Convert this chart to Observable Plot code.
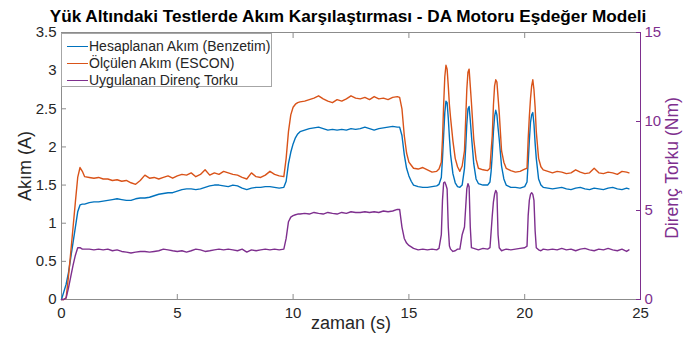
<!DOCTYPE html>
<html><head><meta charset="utf-8">
<script src="https://cdn.jsdelivr.net/npm/d3@7"></script>
<script src="https://cdn.jsdelivr.net/npm/@observablehq/plot@0.6"></script>
<style>
body{margin:0;background:#fff;font-family:"Liberation Sans",Arial,sans-serif;}
#wrap{position:relative;width:699px;height:345px;overflow:hidden;}
#legend{position:absolute;left:61px;top:33px;width:211px;height:54px;border:1px solid #a6a6a6;background:#fff;font-size:14px;color:#262626;box-sizing:border-box;}
.row{position:absolute;left:0;height:17px;line-height:17px;white-space:nowrap;}
.sw{position:absolute;left:5px;top:8px;width:21px;height:0;border-top:1.5px solid;}
.lb{position:absolute;left:27px;top:0;}
</style></head>
<body><div id="wrap"><div id="chart"></div><div id="legend"></div></div>
<script>
const time = [0,0.1,0.2,0.3,0.4,0.5,0.6,0.7,0.8,0.9,1.0,
1.2,1.4,1.6,1.8,2.0,2.2,2.4,2.6,2.8,3.0,3.2,3.4,3.6,3.8,4.0,4.2,4.4,4.6,4.8,5.0,5.2,5.4,5.6,5.8,6.0,6.2,6.4,6.6,6.8,7.0,7.2,7.4,7.6,7.8,8.0,8.2,8.4,8.6,8.8,9.0,9.2,9.4,9.6,
9.7,9.8,9.9,10.0,10.1,10.2,10.3,
10.5,10.7,10.9,11.1,11.3,11.5,11.7,11.9,12.1,12.3,12.5,12.7,12.9,13.1,13.3,13.5,13.7,13.9,14.1,14.3,14.5,
14.6,14.7,14.8,14.9,15.0,15.1,15.2,
15.4,15.6,15.8,16.0,16.2,16.3,16.4,
16.45,16.5,16.55,16.6,16.65,16.7,16.75,16.8,16.9,17.0,17.1,17.2,17.3,
17.4,17.45,17.5,17.55,17.6,17.65,17.7,17.8,17.9,18.0,18.2,18.4,18.5,
18.55,18.6,18.65,18.7,18.75,18.8,18.85,18.9,19.0,19.1,19.2,19.4,19.6,19.8,20.0,20.1,
20.15,20.2,20.25,20.3,20.35,20.4,20.45,20.5,20.6,20.7,20.8,21.0,
21.2,21.4,21.6,21.8,22.0,22.2,22.4,22.6,22.8,23.0,23.2,23.4,23.6,23.8,24.0,24.2,24.4,24.5];

// Hesaplanan Akım (Benzetim), A
const simulatedCurrent = [0,0.1,0.2,0.35,0.55,0.75,0.95,1.15,1.24,1.25,1.25,
1.27,1.28,1.28,1.29,1.30,1.31,1.32,1.31,1.30,1.30,1.32,1.33,1.33,1.34,1.36,1.38,1.39,1.40,1.40,1.42,1.44,1.45,1.45,1.44,1.45,1.47,1.49,1.50,1.50,1.49,1.48,1.50,1.49,1.46,1.44,1.46,1.47,1.47,1.48,1.48,1.47,1.46,1.47,
1.55,1.78,1.93,2.04,2.12,2.17,2.20,
2.22,2.24,2.25,2.26,2.24,2.22,2.23,2.22,2.23,2.22,2.24,2.23,2.24,2.26,2.24,2.22,2.24,2.25,2.26,2.27,2.26,
2.26,2.15,1.90,1.72,1.62,1.55,1.50,
1.48,1.47,1.47,1.48,1.49,1.51,1.60,
1.85,2.15,2.45,2.60,2.58,2.38,2.12,1.90,1.65,1.53,1.48,1.47,1.50,
1.72,1.98,2.30,2.50,2.53,2.35,2.15,1.78,1.58,1.52,1.50,1.50,1.54,
1.68,1.90,2.20,2.40,2.48,2.42,2.25,2.10,1.75,1.58,1.50,1.47,1.47,1.46,1.48,1.54,
1.80,2.08,2.32,2.42,2.45,2.30,2.05,1.85,1.58,1.50,1.47,1.46,
1.45,1.46,1.47,1.45,1.44,1.46,1.47,1.45,1.44,1.46,1.45,1.44,1.46,1.47,1.45,1.44,1.46,1.45];

// Ölçülen Akım (ESCON), A
const measuredCurrent = [0,0,0.02,0.3,0.62,0.95,1.28,1.6,1.73,1.68,1.61,
1.60,1.59,1.60,1.58,1.58,1.56,1.57,1.55,1.56,1.53,1.51,1.56,1.63,1.59,1.60,1.58,1.60,1.62,1.59,1.62,1.64,1.63,1.66,1.61,1.64,1.70,1.63,1.66,1.64,1.68,1.66,1.64,1.63,1.60,1.58,1.66,1.61,1.60,1.63,1.68,1.64,1.62,1.61,
1.85,2.20,2.42,2.52,2.56,2.58,2.59,
2.60,2.62,2.64,2.67,2.63,2.60,2.58,2.62,2.60,2.63,2.67,2.64,2.63,2.65,2.62,2.66,2.63,2.64,2.62,2.65,2.66,
2.65,2.50,2.15,1.92,1.80,1.76,1.72,
1.71,1.73,1.70,1.67,1.68,1.71,1.80,
2.10,2.55,2.92,3.07,3.02,2.80,2.55,2.38,2.08,1.85,1.74,1.68,1.75,
1.95,2.35,2.75,2.98,3.02,2.80,2.58,2.10,1.84,1.72,1.70,1.69,1.72,
1.95,2.15,2.55,2.80,2.88,2.85,2.65,2.45,1.95,1.80,1.72,1.69,1.67,1.68,1.71,1.72,
2.10,2.40,2.63,2.80,2.88,2.75,2.52,2.20,1.85,1.74,1.70,1.68,
1.66,1.68,1.67,1.65,1.66,1.70,1.67,1.65,1.66,1.72,1.66,1.65,1.67,1.66,1.64,1.68,1.67,1.66];

// Uygulanan Direnç Torku, Nm (right axis)
const loadTorque = [0,0,0.09,0.64,1.29,1.93,2.49,2.91,2.91,2.83,2.83,
2.83,2.79,2.83,2.79,2.83,2.74,2.79,2.70,2.66,2.61,2.66,2.70,2.70,2.66,2.70,2.74,2.83,2.79,2.74,2.70,2.74,2.66,2.74,2.83,2.79,2.70,2.74,2.79,2.83,2.79,2.83,2.79,2.74,2.83,2.66,2.79,2.74,2.79,2.83,2.79,2.83,2.79,2.83,
3.43,4.37,4.63,4.71,4.76,4.80,4.80,
4.84,4.80,4.89,4.84,4.80,4.89,4.84,4.80,4.89,4.84,4.93,4.89,4.89,4.93,4.89,4.93,4.89,4.97,4.93,4.97,5.06,
5.06,4.07,3.43,3.17,3.04,2.96,2.87,
2.79,2.83,2.79,2.83,2.79,2.87,3.64,
5.57,6.56,6.60,6.43,6.21,4.07,3.00,2.83,2.70,2.74,2.83,2.83,3.64,
4.07,5.14,6.21,6.51,6.34,4.07,2.91,2.87,2.83,2.79,2.87,2.83,2.91,
3.80,4.71,5.49,5.91,6.13,6.00,3.64,2.91,2.74,2.79,2.83,2.79,2.83,2.87,2.91,3.00,
4.71,5.57,5.91,6.00,5.91,5.57,3.86,2.91,2.79,2.74,2.83,2.79,
2.83,2.79,2.87,2.79,2.83,2.74,2.83,2.87,2.79,2.74,2.83,2.79,2.87,2.79,2.74,2.83,2.70,2.79];

const xTicks = [0,5,10,15,20,25];
const yTicks = [0,0.5,1,1.5,2,2.5,3,3.5];
const torqueTicks = [0,5,10,15];
const seriesNames = ["Hesaplanan Akım (Benzetim)","Ölçülen Akım (ESCON)","Uygulanan Direnç Torku"];
const colors = ["#0072BD","#D95319","#7E2F8E"];
const titleText = "Yük Altındaki Testlerde Akım Karşılaştırması - DA Motoru Eşdeğer Modeli";

const yMax = 3.5, torqueMax = 15, K = yMax / torqueMax;
const data = time.map((t, i) => ({t, sim: simulatedCurrent[i], meas: measuredCurrent[i], tq: loadTorque[i]}));
const axisGray = "#8c8c8c";
const txt = "#262626";

const chart = Plot.plot({
  width: 699, height: 345,
  marginLeft: 61, marginRight: 59, marginTop: 32, marginBottom: 46,
  style: {fontFamily: "'Liberation Sans', Arial, sans-serif", fontSize: "15px", background: "#fff", color: txt},
  x: {domain: [0, 25]},
  y: {domain: [0, yMax]},
  marks: [
    Plot.frame({stroke: axisGray}),
    Plot.axisX({ticks: xTicks, tickSize: -5, tickPadding: 13, tickFormat: d => String(d), label: null, stroke: axisGray, fill: txt}),
    Plot.axisX({anchor: "top", ticks: xTicks, tickSize: -5, tickPadding: 0, tickFormat: () => "", label: null, stroke: axisGray}),
    Plot.axisY({ticks: yTicks, tickSize: -5, tickPadding: 10, tickFormat: d => String(d), label: null, stroke: axisGray, fill: txt}),
    Plot.axisY({anchor: "right", ticks: torqueTicks.map(v => v * K), tickSize: -5, tickPadding: 9, tickFormat: d => String(Math.round(d / K)), label: null, color: colors[2]}),
    Plot.ruleX([25], {stroke: colors[2], strokeWidth: 1}),
    Plot.lineY(data, {x: "t", y: "sim", stroke: colors[0], strokeWidth: 1.4}),
    Plot.lineY(data, {x: "t", y: "meas", stroke: colors[1], strokeWidth: 1.4}),
    Plot.lineY(data, {x: "t", y: d => d.tq * K, stroke: colors[2], strokeWidth: 1.4}),
    Plot.text([titleText], {text: d => d, frameAnchor: "top", dx: -3, dy: -23, fontSize: 17.2, fontWeight: "bold", fill: "#000", textAnchor: "middle"}),
    Plot.text(["zaman (s)"], {text: d => d, frameAnchor: "bottom", dy: 29, fontSize: 18, fill: txt, textAnchor: "middle"}),
    Plot.text(["Akım (A)"], {text: d => d, frameAnchor: "left", dx: -36, rotate: -90, fontSize: 18, fill: txt, textAnchor: "middle"}),
    Plot.text(["Direnç Torku (Nm)"], {text: d => d, frameAnchor: "right", dx: 32, dy: 2, rotate: -90, fontSize: 17.5, fill: colors[2], textAnchor: "middle"})
  ]
});
document.getElementById("chart").appendChild(chart);

const legend = document.getElementById("legend");
seriesNames.forEach((name, i) => {
  const row = document.createElement("div");
  row.className = "row";
  row.style.top = (4 + i * 17) + "px";
  row.innerHTML = `<span class="sw" style="border-color:${colors[i]}"></span><span class="lb">${name}</span>`;
  legend.appendChild(row);
});
</script>
</body></html>
